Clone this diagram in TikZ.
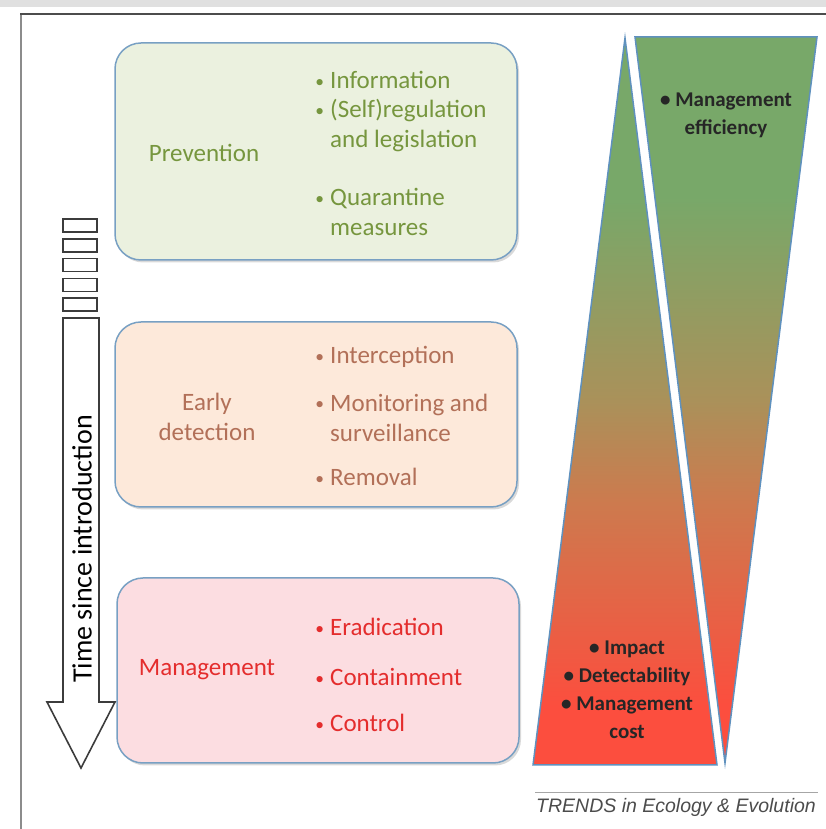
\documentclass[tikz,border=0pt]{standalone}
\usepackage{graphicx}
\usepackage{fontspec}
\setmainfont{Carlito}
\newfontfamily\trendsfont{Liberation Sans}
\usetikzlibrary{shadows}

\definecolor{boxedge}{RGB}{120,160,195}
\definecolor{prevfill}{RGB}{235,241,223}
\definecolor{prevtext}{RGB}{118,150,62}
\definecolor{detfill}{RGB}{253,233,218}
\definecolor{dettext}{RGB}{178,112,88}
\definecolor{mgmtfill}{RGB}{252,221,225}
\definecolor{mgmttext}{RGB}{228,45,45}
\definecolor{trigreen}{RGB}{120,168,105}
\definecolor{tribrown}{RGB}{170,145,90}
\definecolor{triorange}{RGB}{205,122,78}
\definecolor{trired}{RGB}{252,78,62}
\definecolor{triedge}{RGB}{95,145,190}
\definecolor{arrowline}{RGB}{60,60,60}

\pgfdeclareverticalshading{trishade}{100bp}{color(0bp)=(trired); color(29bp)=(trired);
	color(43bp)=(triorange); color(50bp)=(tribrown); color(64bp)=(trigreen); color(100bp)=(trigreen)}

\newcommand{\boxfont}{\fontsize{25}{30}\selectfont}
\newcommand{\trifont}{\fontsize{21}{28}\selectfont}
\newcommand{\itm}{\makebox[0pt][r]{\raisebox{1.5pt}{\scalebox{0.7}{•}}\hspace{6pt}}}

\begin{document}
\begin{tikzpicture}[x=1pt,y=1pt,
	stagebox/.style={draw=boxedge, line width=1.5pt, rounded corners=26pt, minimum width=402pt,
		drop shadow={shadow xshift=2pt, shadow yshift=-2.5pt, opacity=0.3}},
	stagetitle/.style={font=\boxfont, align=center},
	stageitem/.style={font=\boxfont, align=left, anchor=west, inner sep=0pt},
	trishape/.style={draw=triedge, line width=1.5pt, shading=trishade},
	trilabel/.style={font=\trifont\bfseries, align=center, text=black!85},
	arrowpart/.style={draw=arrowline, line width=1.6pt, line join=miter, fill=white}
	]
	\useasboundingbox (0,0) rectangle (826,829);

	% frame
	\fill[black!12] (0,822) rectangle (826,829);
	\draw[black!45, line width=1.5pt] (21,0) -- (21,815);
	\draw[black!70, line width=1.5pt] (20.25,815) -- (826,815);

	% stage boxes
	\node[stagebox, fill=prevfill, minimum height=217pt] (prevbox) at (316,677.5) {};
	\node[stagebox, fill=detfill, minimum height=185pt] (detbox) at (316,414.5) {};
	\node[stagebox, fill=mgmtfill, minimum height=185pt] (mgmtbox) at (318,158.5) {};

	\node[stagetitle, text=prevtext] (prevtitle) at (204,676) {Prevention};
	\node[stageitem, text=prevtext] (previnfo) at (330,749) {\itm Information};
	\node[stageitem, text=prevtext] (prevreg) at (330,703) {\itm (Self)regulation\\and legislation};
	\node[stageitem, text=prevtext] (prevquar) at (330,617) {\itm Quarantine\\measures};

	\node[stagetitle, text=dettext] (dettitle) at (207,412) {Early\\detection};
	\node[stageitem, text=dettext] (detint) at (330,472) {\itm Interception};
	\node[stageitem, text=dettext] (detmon) at (330,411.5) {\itm Monitoring and\\surveillance};
	\node[stageitem, text=dettext] (detrem) at (330,352) {\itm Removal};

	\node[stagetitle, text=mgmttext] (mgmttitle) at (207,159) {Management};
	\node[stageitem, text=mgmttext] (mgmterad) at (330,202) {\itm Eradication};
	\node[stageitem, text=mgmttext] (mgmtcont) at (330,152) {\itm Containment};
	\node[stageitem, text=mgmttext] (mgmtctrl) at (330,106) {\itm Control};

	% time arrow
	\foreach \i in {0,...,4}
		\draw[arrowpart] (63,610-19.8*\i) rectangle (97,597-19.8*\i);
	\draw[arrowpart] (63,511) -- (99,511) -- (99,127) -- (115,127) -- (81,61) -- (47,127) -- (63,127) -- cycle;
	\node[rotate=90, font=\fontsize{28}{32}\selectfont] (timelabel) at (82,280) {Time since introduction};

	% triangles
	\draw[trishape] (625,791) -- (717,64) -- (533,64) -- cycle;
	\draw[trishape] (635,792) -- (817,792) -- (725,66) -- cycle;
	\node[trilabel] (efflabel) at (726,714) {• Management\\efficiency};
	\node[trilabel] (costlabel) at (627,139) {• Impact\\• Detectability\\• Management\\cost};

	% credit line
	\draw[black!35, line width=1pt] (535,36) -- (818,36);
	\node[font=\trendsfont\itshape\fontsize{19.5}{22}\selectfont, text=black!70] (credit) at (676,22) {TRENDS in Ecology \& Evolution};
\end{tikzpicture}
\end{document}
